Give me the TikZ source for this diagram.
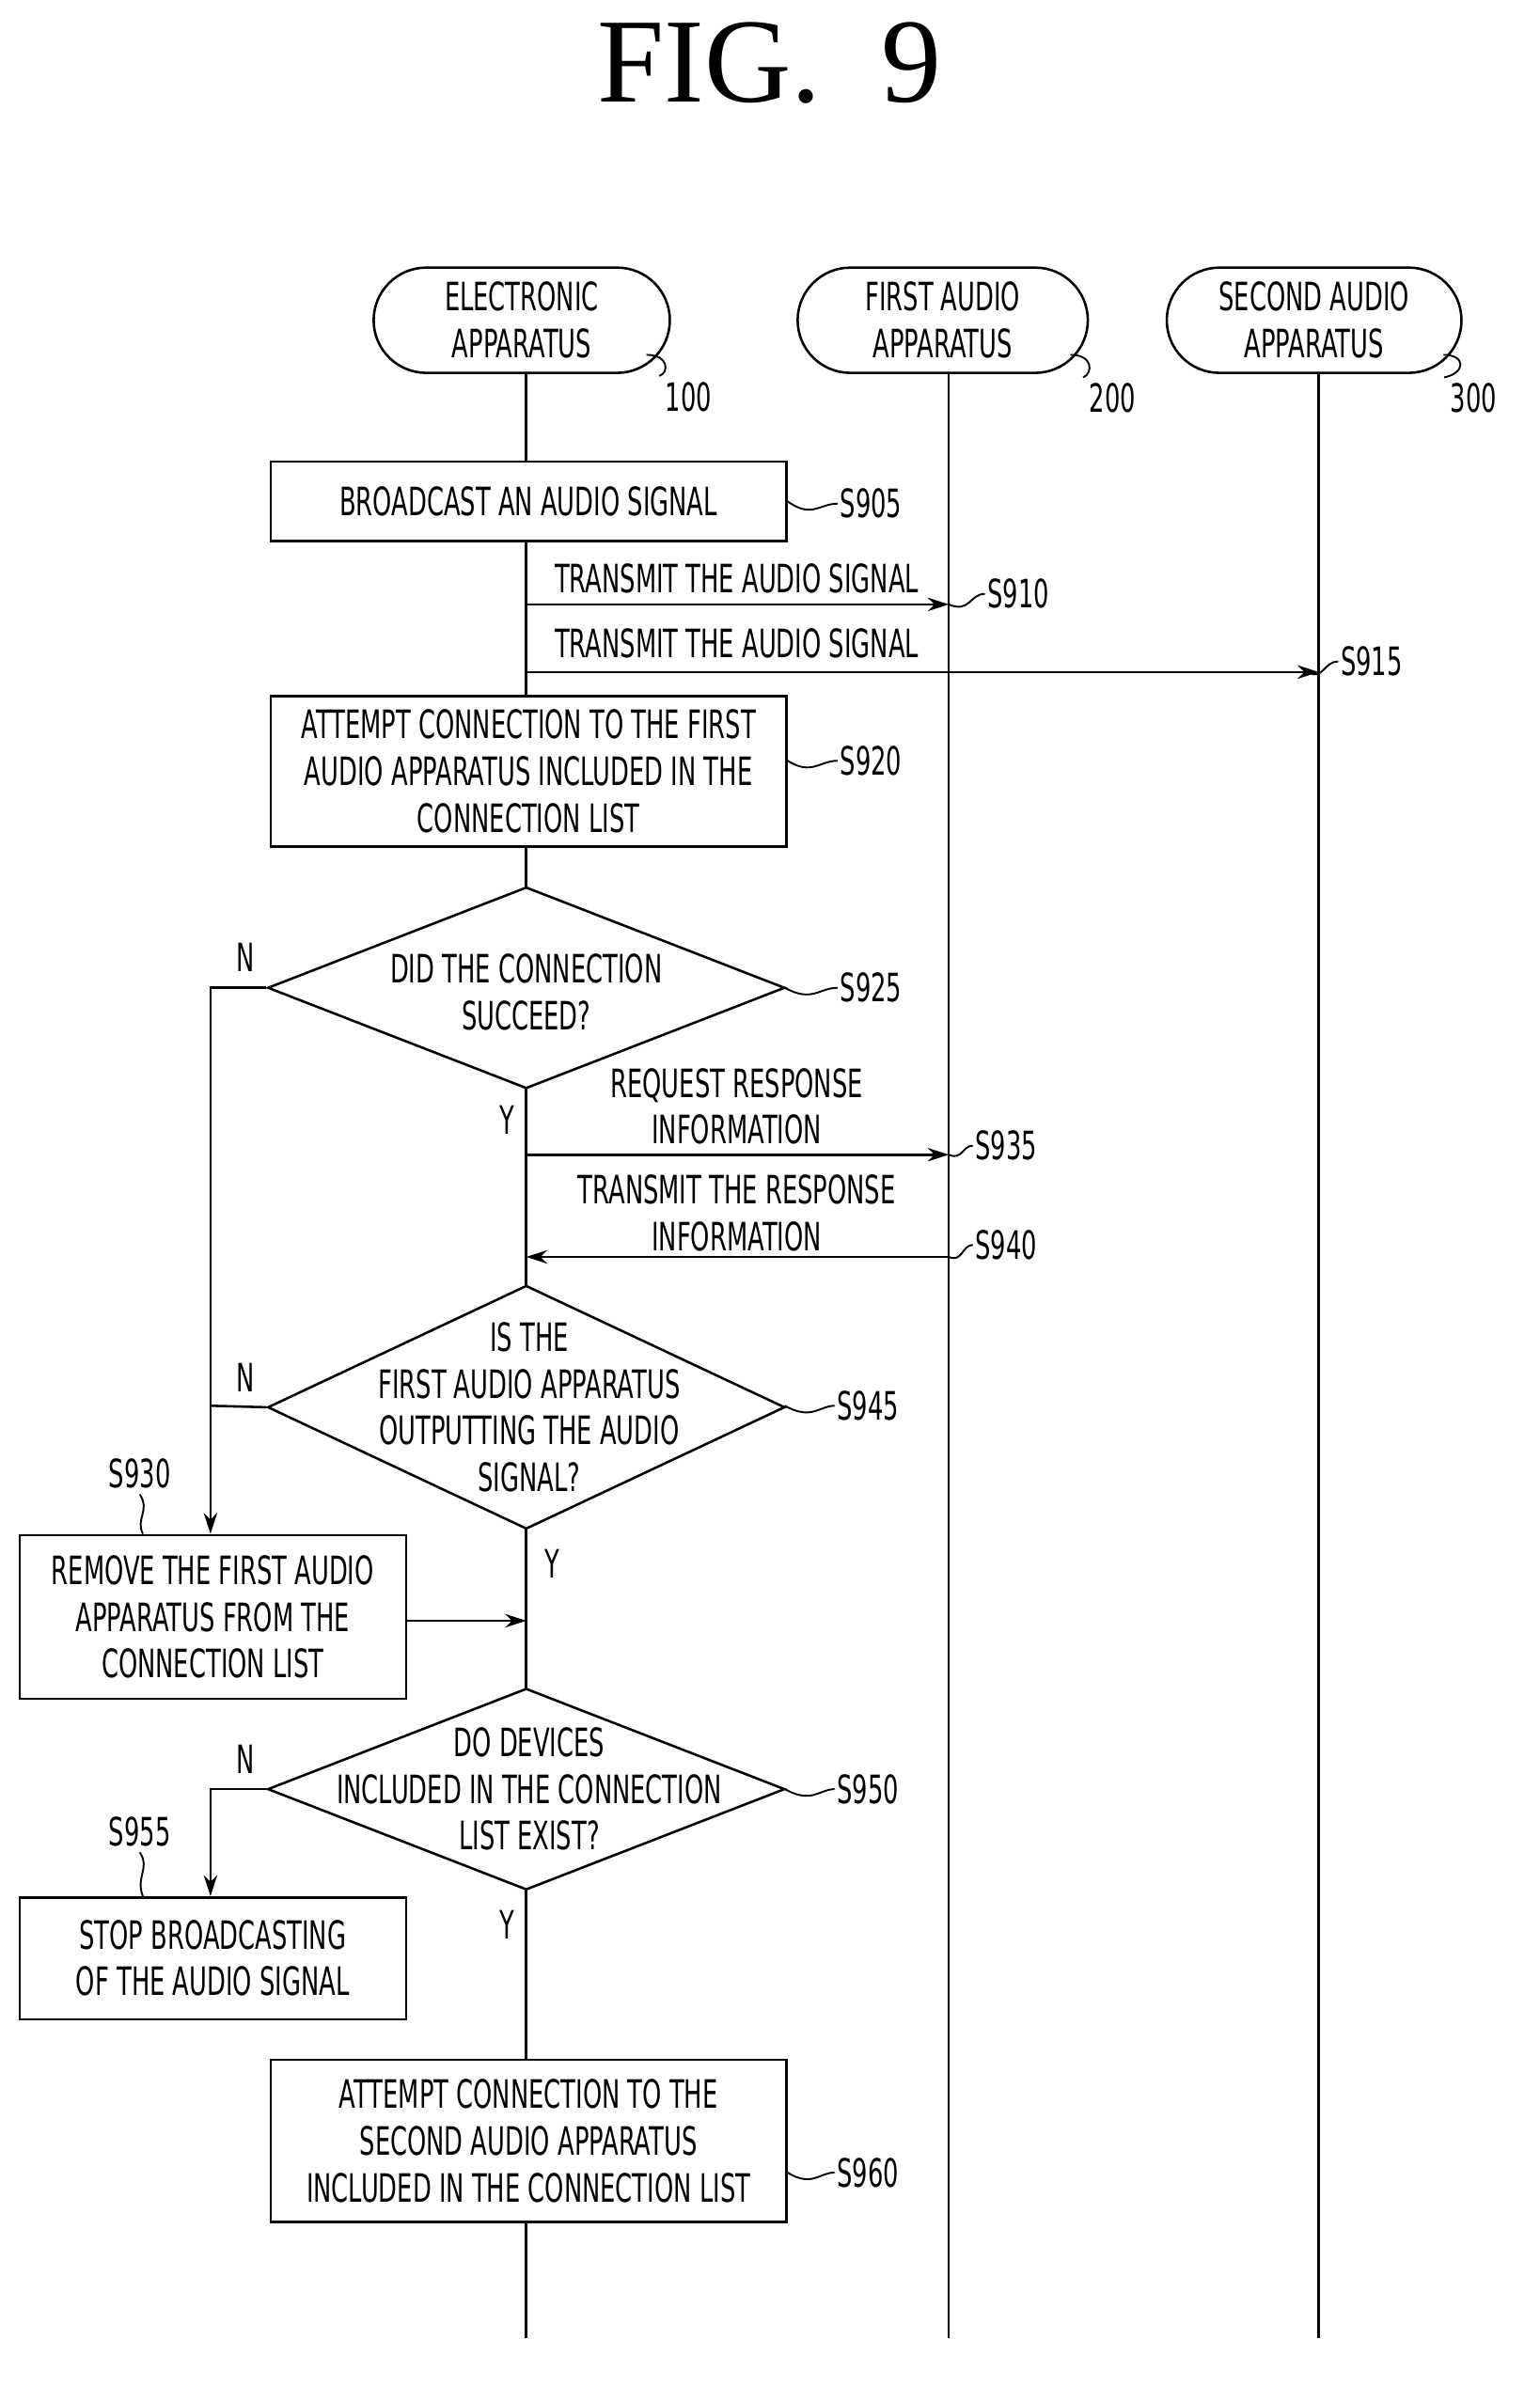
\documentclass[tikz,border=0pt]{standalone}
\usepackage{fontspec}
\setmainfont{DejaVu Sans}[FakeStretch=0.62]
\newfontfamily\titlefont{Liberation Serif}
\usetikzlibrary{shapes.geometric,arrows.meta}
\begin{document}
\begin{tikzpicture}[x=1pt,y=-1pt,line width=1.6pt,
  every node/.style={font=\fontsize{26}{31}\selectfont, align=center},
  box/.style={draw, rectangle, inner sep=0},
  dia/.style={draw, diamond, minimum width=344, minimum height=134, inner sep=0},
  term/.style={draw, rounded rectangle, minimum width=196, minimum height=70, inner sep=0},
  lbl/.style={anchor=west, inner sep=1pt},
  arr/.style={-{Stealth[length=14pt,width=9pt]}},
  lead/.style={line width=1.2pt}]
\useasboundingbox (0,0) rectangle (1024,1587);
\node[font=\titlefont\fontsize{80}{80}\selectfont] (title) at (512,42) {FIG.\ \ 9};
% headers
\node[draw, rounded corners=35, minimum width=197, minimum height=70, inner sep=0] (e) at (347,213) {ELECTRONIC\\APPARATUS};
\node[draw, rounded corners=35, minimum width=193, minimum height=70, inner sep=0] (f) at (627,213) {FIRST AUDIO\\APPARATUS};
\node[draw, rounded corners=35, minimum width=196, minimum height=70, inner sep=0] (s) at (874,213) {SECOND AUDIO\\APPARATUS};
\node (n100) at (458,264) {100};
\node (n200) at (740,265) {200};
\node (n300) at (980,265) {300};
\draw[lead] (430,236) .. controls (445,236) and (445,248) .. (n100.north west);
\draw[lead] (712,236) .. controls (727,236) and (727,248) .. (n200.north west);
\draw[lead] (960,236) .. controls (975,236) and (975,248) .. (n300.north west);
% lifelines
\coordinate (eb) at (350,1555); \coordinate (fb) at (631,1555); \coordinate (sb) at (877,1555);
\coordinate (et) at (350,248); \coordinate (ft) at (631,248); \coordinate (st) at (877,248);
\draw (ft) -- (fb);
\draw (st) -- (sb);
\draw (et) -- (eb);
% boxes
\node[box, fill=white, minimum width=343, minimum height=53] (b905) at (351.5,333.5) {BROADCAST AN AUDIO SIGNAL};
\node[box, fill=white, minimum width=343, minimum height=100] (b920) at (351.5,513) {ATTEMPT CONNECTION TO THE FIRST\\AUDIO APPARATUS INCLUDED IN THE\\CONNECTION LIST};
\node[dia, fill=white] (d925) at (350,657) {};
\node at (350,660) {DID THE CONNECTION\\SUCCEED?};
\node[dia, fill=white, minimum height=162] (d945) at (350,936) {};
\node at (352,936) {IS THE\\FIRST AUDIO APPARATUS\\OUTPUTTING THE AUDIO\\SIGNAL?};
\node[dia, fill=white] (d950) at (350,1190) {};
\node at (352,1190) {DO DEVICES\\INCLUDED IN THE CONNECTION\\LIST EXIST?};
\node[box, fill=white, minimum width=257, minimum height=109] (b930) at (141.5,1075.5) {REMOVE THE FIRST AUDIO\\APPARATUS FROM THE\\CONNECTION LIST};
\node[box, fill=white, minimum width=257, minimum height=81] (b955) at (141.5,1302.5) {STOP BROADCASTING\\OF THE AUDIO SIGNAL};
\node[box, fill=white, minimum width=343, minimum height=108] (b960) at (351.5,1424) {ATTEMPT CONNECTION TO THE\\SECOND AUDIO APPARATUS\\INCLUDED IN THE CONNECTION LIST};
% messages
\coordinate (m910a) at (350,402); \coordinate (m910b) at (631,402);
\draw[arr] (m910a) -- (m910b);
\node (t910) at (490,385) {TRANSMIT THE AUDIO SIGNAL};
\coordinate (m915a) at (350,447); \coordinate (m915b) at (877,447);
\draw[arr] (m915a) -- (m915b);
\node (t915) at (490,428) {TRANSMIT THE AUDIO SIGNAL};
\coordinate (m935a) at (350,768); \coordinate (m935b) at (631,768);
\draw[arr] (m935a) -- (m935b);
\node (t935) at (490,736) {REQUEST RESPONSE\\INFORMATION};
\coordinate (m940a) at (631,836); \coordinate (m940b) at (350,836);
\draw[arr] (m940a) -- (m940b);
\node (t940) at (490,807) {TRANSMIT THE RESPONSE\\INFORMATION};
% N branches
\coordinate (c1) at (140,657); \coordinate (c2) at (140,935); \coordinate (c3) at (140,1190);
\draw[arr] (d925.west) -- (c1) -- (b930.north -| c1);
\draw (d945.west) -- (c2);
\draw[arr] (d950.west) -- (c3) -- (b955.north -| c3);
\coordinate (j930) at (350,1078);
\draw[arr] (b930.east |- j930) -- (j930);
\node at (163,637) {N}; \node at (163,916) {N}; \node at (163,1170) {N};
\node at (337,745) {Y}; \node at (367,1040) {Y}; \node at (337,1280) {Y};
% step labels
\node[lbl] (s905) at (557,335) {S905};
\draw[lead] (b905.east) .. controls (540,345) and (545,335) .. (s905.west);
\node[lbl] (s910) at (655,395) {S910};
\draw[lead] (631,402) .. controls (645,408) and (645,395) .. (s910.west);
\node[lbl] (s915) at (890,440) {S915};
\draw[lead] (870,447) .. controls (880,453) and (880,440) .. (s915.west);
\node[lbl] (s920) at (557,506) {S920};
\draw[lead] (b920.east |- s920) .. controls (540,516) and (545,506) .. (s920.west);
\node[lbl] (s925) at (557,657) {S925};
\draw[lead] (522,657) .. controls (540,667) and (545,657) .. (s925.west);
\node[lbl] (s935) at (647,762) {S935};
\draw[lead] (631,768) .. controls (640,772) and (640,762) .. (s935.west);
\node[lbl] (s940) at (647,828) {S940};
\draw[lead] (631,836) .. controls (640,840) and (640,828) .. (s940.west);
\node[lbl] (s945) at (555,935) {S945};
\draw[lead] (522,935) .. controls (540,945) and (545,935) .. (s945.west);
\node (s930) at (93,980) {S930};
\draw[lead] (s930.south) .. controls (100,1005) and (90,1010) .. (b930.north -| 95,0);
\node[lbl] (s950) at (555,1190) {S950};
\draw[lead] (522,1190) .. controls (540,1200) and (545,1190) .. (s950.west);
\node (s955) at (93,1218) {S955};
\draw[lead] (s955.south) .. controls (100,1243) and (90,1248) .. (b955.north -| 95,0);
\node[lbl] (s960) at (555,1445) {S960};
\draw[lead] (b960.east |- s960) .. controls (540,1455) and (545,1445) .. (s960.west);
\end{tikzpicture}
\end{document}
